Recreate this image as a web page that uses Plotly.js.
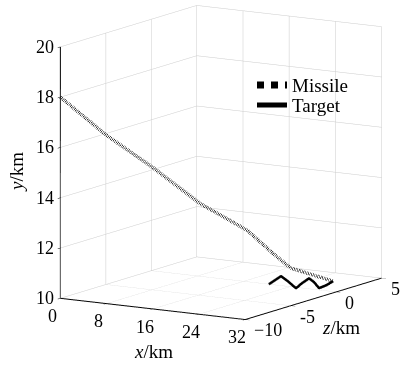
<!DOCTYPE html>
<html>
<head>
<meta charset="utf-8">
<script src="https://cdn.plot.ly/plotly-3.0.1.min.js"></script>
<style>html,body{margin:0;padding:0;background:#fff;}#chart{width:400px;height:365px;}</style>
</head>
<body>
<div id="chart"></div>
<script>
// Missile trajectory (x: downrange km, y: altitude km, z: cross-range km)
var missileX = [0, 5.05, 10.2, 15.5, 20.8, 23.7, 25.6, 27.8, 30.3];
var missileY = [18, 16.44, 15.09, 13.58, 12.43, 11.46, 10.88, 10.61, 10.3];
var missileZ = [-10, -8.21, -6.38, -4.50, -2.62, -1.59, -0.92, -0.14, 0.75];

// Target trajectory (weaving)
var targetX = [23.5, 24.14, 24.78, 25.52, 26.37, 27.0, 27.75, 28.28, 28.8, 29.56, 30.3];
var targetY = [10.3, 10.45, 10.60, 10.38, 10.09, 10.28, 10.46, 10.3, 10.05, 10.15, 10.3];
var targetZ = [-2.0, -1.74, -1.48, -1.18, -0.84, -0.58, -0.28, -0.07, 0.15, 0.45, 0.75];

var xTicks = [0, 8, 16, 24, 32];
var xTickText = ['0', '8', '16', '24', '32'];
var yTicks = [10, 12, 14, 16, 18, 20];
var yTickText = ['10', '12', '14', '16', '18', '20'];
var zTicks = [-10, -5, 0, 5];
var zTickText = ['\u221210', '-5', '0', '5'];

var xRange = [0, 32], yRange = [10, 20], zRange = [-10, 5];

var serif = 'Liberation Serif, Times New Roman, serif';
var tickFont = {family: serif, size: 18, color: '#000'};
var labFont = {family: serif, size: 19, color: '#000'};

var traces = [
  {type: 'scatter3d', mode: 'lines', name: 'Missile', legend: 'legend',
   x: missileX, y: missileZ, z: missileY,
   line: {color: '#000', width: 7, dash: 'dot'}},
  {type: 'scatter3d', mode: 'lines', name: 'Target', legend: 'legend2',
   x: targetX, y: targetZ, z: targetY,
   line: {color: '#000', width: 5}}
];

function ax(range, tv) {
  return {
    range: range, autorange: false, tickvals: tv,
    title: {text: ''},
    showticklabels: false,
    showgrid: true, gridcolor: '#cccccc', gridwidth: 1,
    showline: true, linecolor: '#000', linewidth: 2,
    showbackground: false, zeroline: false,
    ticks: 'inside', ticklen: 5, tickcolor: '#000',
    showspikes: false
  };
}

// tick labels placed at data coordinates on the axis edges
var sceneAnn = [];
xTicks.forEach(function (v, i) {
  sceneAnn.push({x: v, y: zRange[0], z: yRange[0], text: xTickText[i], showarrow: false,
    xanchor: 'center', yanchor: 'middle', xshift: -8, yshift: -18, font: tickFont});
});
yTicks.forEach(function (v, i) {
  sceneAnn.push({x: xRange[0], y: zRange[0], z: v, text: yTickText[i], showarrow: false,
    xanchor: 'right', yanchor: 'middle', xshift: -4, yshift: 0, font: tickFont});
});
zTicks.forEach(function (v, i) {
  sceneAnn.push({x: xRange[1], y: v, z: yRange[0], text: zTickText[i], showarrow: false,
    xanchor: 'left', yanchor: 'middle', xshift: 7, yshift: -11, font: tickFont});
});

var dir = [0.515, -0.837, 0.187];
var dist = 2.0;
var zoom = 1.575;

var layout = {
  width: 400, height: 365,
  margin: {l: 0, r: 0, t: 0, b: 0},
  paper_bgcolor: '#fff',
  showlegend: true,
  legend: {x: 0.63, y: 0.819, xanchor: 'left', yanchor: 'top',
           font: labFont, bgcolor: 'rgba(0,0,0,0)'},
  legend2: {x: 0.63, y: 0.764, xanchor: 'left', yanchor: 'top',
           font: labFont, bgcolor: 'rgba(0,0,0,0)'},
  scene: {
    domain: {x: [0.105, 1.0], y: [0.11, 1.0]},
    xaxis: ax(xRange, xTicks),
    yaxis: ax(zRange, zTicks),
    zaxis: ax(yRange, yTicks),
    aspectmode: 'manual',
    aspectratio: {x: 0.848 * zoom, y: 1.017 * zoom, z: 1.0 * zoom},
    camera: {
      projection: {type: 'orthographic'},
      up: {x: 0, y: 0, z: 1},
      center: {x: 0, y: 0, z: 0},
      eye: {x: dir[0] * dist, y: dir[1] * dist, z: dir[2] * dist}
    },
    annotations: sceneAnn
  },
  annotations: [
    {text: '<i>x</i>/km', x: 0.383, y: 0.036, xref: 'paper', yref: 'paper', showarrow: false,
     xanchor: 'center', yanchor: 'middle', font: labFont},
    {text: '<i>z</i>/km', x: 0.853, y: 0.104, xref: 'paper', yref: 'paper', showarrow: false,
     xanchor: 'center', yanchor: 'middle', font: labFont},
    {text: '<i>y</i>/km', x: 0.0425, y: 0.529, xref: 'paper', yref: 'paper', showarrow: false,
     xanchor: 'center', yanchor: 'middle', textangle: -90, font: labFont}
  ]
};

Plotly.newPlot('chart', traces, layout, {displayModeBar: false});
</script>
</body>
</html>
